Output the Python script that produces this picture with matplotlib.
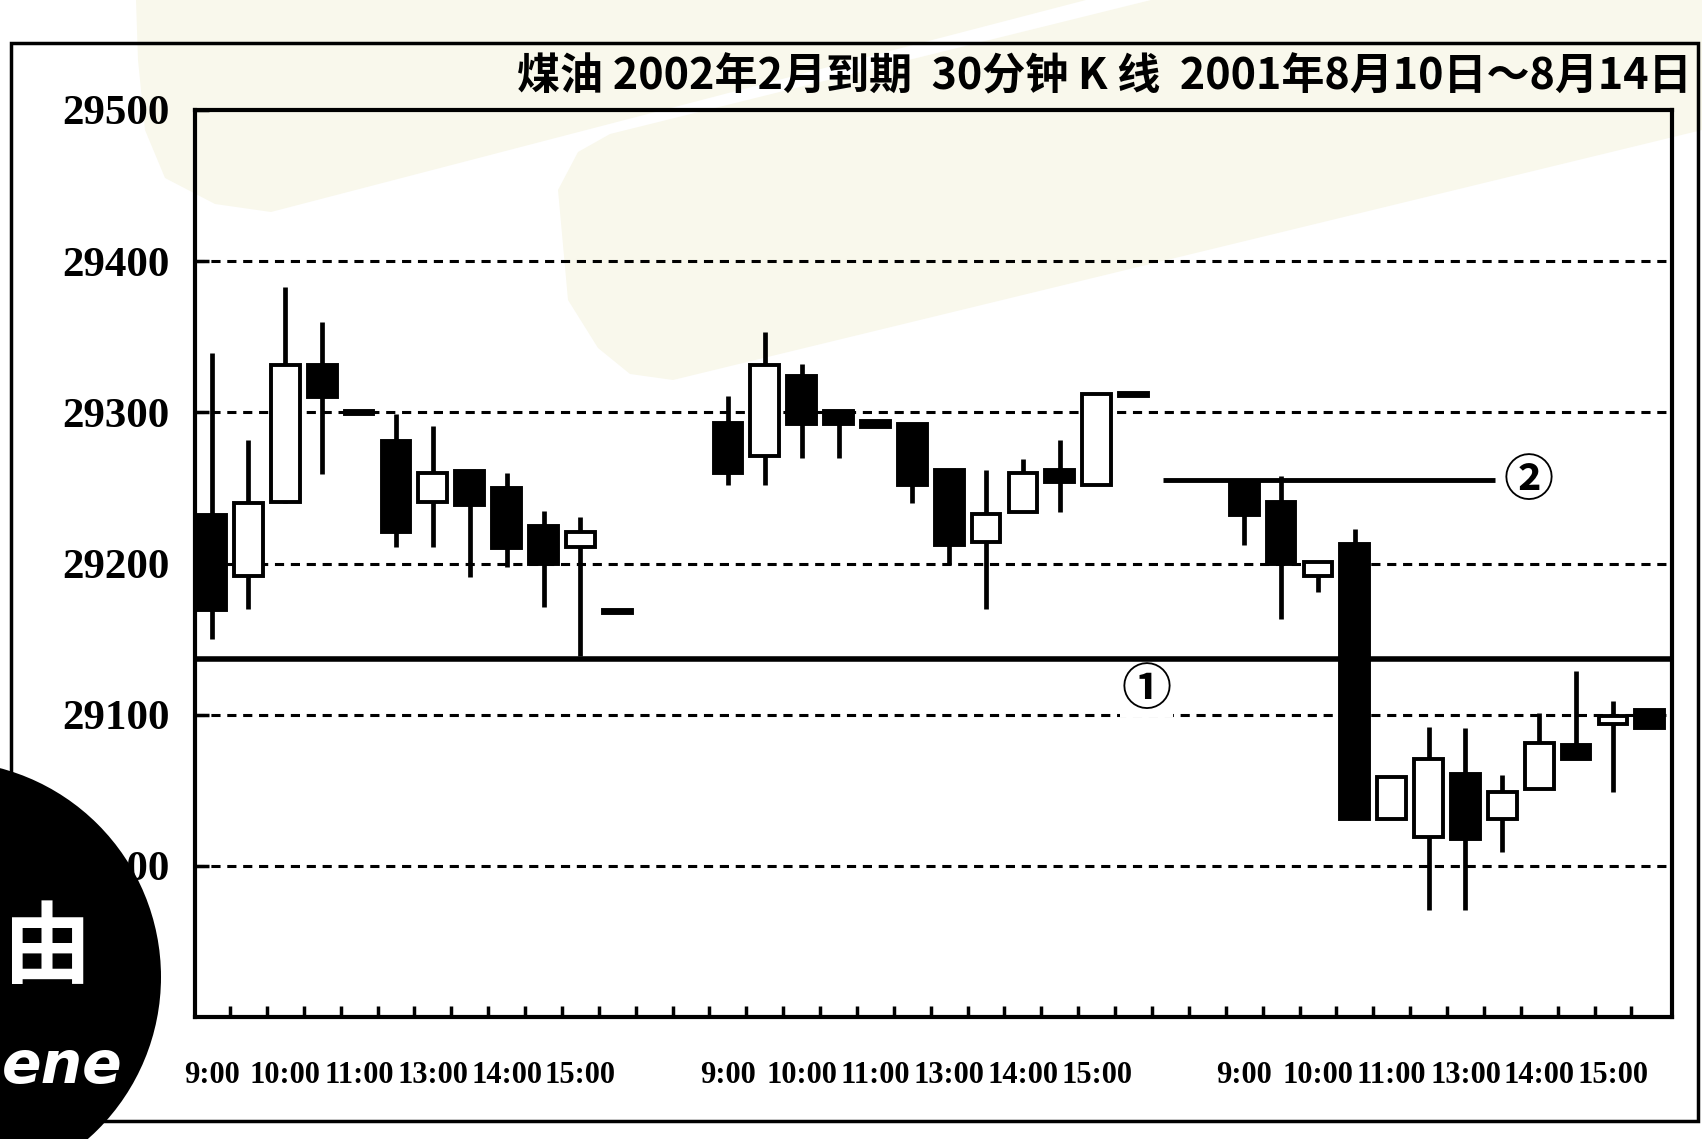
import numpy as np
import matplotlib
matplotlib.use('Agg')
import matplotlib.pyplot as plt
from matplotlib.patches import Polygon, Circle, Rectangle

# 30-minute candles, three trading days (Aug 10, 13, 14)
day1_open = [29232, 29192, 29241, 29331, 29301, 29281, 29241, 29261, 29250, 29225, 29211, 29169]
day1_high = [29339, 29282, 29383, 29360, 29301, 29299, 29291, 29261, 29260, 29235, 29231, 29169]
day1_low = [29150, 29170, 29240, 29259, 29299, 29211, 29211, 29191, 29198, 29171, 29139, 29167]
day1_close = [29169, 29240, 29331, 29310, 29299, 29221, 29260, 29239, 29210, 29200, 29221, 29167]

day2_open = [29293, 29271, 29324, 29301, 29294, 29292, 29262, 29214, 29234, 29262, 29252, 29313]
day2_high = [29311, 29353, 29332, 29301, 29294, 29292, 29262, 29262, 29269, 29282, 29312, 29313]
day2_low = [29252, 29252, 29270, 29270, 29290, 29240, 29199, 29170, 29234, 29234, 29252, 29311]
day2_close = [29260, 29331, 29292, 29292, 29290, 29252, 29212, 29233, 29260, 29254, 29312, 29311]

day3_open = [29254, 29241, 29192, 29213, 29031, 29019, 29061, 29031, 29051, 29080, 29094, 29103]
day3_high = [29254, 29258, 29201, 29223, 29059, 29092, 29091, 29060, 29101, 29129, 29109, 29103]
day3_low = [29212, 29163, 29181, 29031, 29031, 28971, 28971, 29009, 29051, 29071, 29049, 29091]
day3_close = [29232, 29200, 29201, 29031, 29059, 29071, 29018, 29049, 29081, 29071, 29099, 29091]

day_starts = [0, 14, 28]
time_labels = ['9:00', '10:00', '11:00', '13:00', '14:00', '15:00']
y_ticks = [29000, 29100, 29200, 29300, 29400, 29500]
grid_levels = [29000, 29100, 29200, 29300, 29400]

line1_level = 29137          # support line (1)
line2_level = 29255          # resistance line (2)
line2_span = (25.8, 34.8)
mark1_pos = (25.35, 29116)
mark2_pos = (35.7, 29254)

title = '煤油 2002年2月到期  30分钟 K 线  2001年8月10日～8月14日'

opens = day1_open + day2_open + day3_open
highs = day1_high + day2_high + day3_high
lows = day1_low + day2_low + day3_low
closes = day1_close + day2_close + day3_close
xs = []
for s in day_starts:
    xs += list(range(s, s + 12))
xs = np.array(xs)
opens = np.array(opens)
closes = np.array(closes)
highs = np.array(highs)
lows = np.array(lows)

W, H = 1702, 1139
fig = plt.figure(figsize=(W / 100, H / 100), dpi=100)

# background page: light watermark shapes and outer frame
bg = fig.add_axes([0, 0, 1, 1], zorder=0)
bg.set_xlim(0, W)
bg.set_ylim(H, 0)
bg.axis('off')
beige = '#f9f8ec'
bg.add_patch(Polygon([(136, 0), (1086, 0), (271, 212), (215, 204), (165, 178),
                      (145, 130), (138, 60)], closed=True, fc=beige, ec='none'))
bg.add_patch(Polygon([(1151, 0), (1702, 0), (1702, 130), (673, 380), (630, 374),
                      (598, 348), (568, 300), (558, 190), (578, 152), (610, 134)],
                     closed=True, fc=beige, ec='none'))
bg.add_patch(Rectangle((11, 43), 1687, 1078, fill=False, ec='black', lw=2.5))

# main chart
ax = fig.add_axes([195 / W, 1 - 1017 / H, (1672 - 195) / W, (1017 - 110) / H], zorder=1)
ax.patch.set_alpha(0)
ax.set_xlim(-0.45, 39.6)
ax.set_ylim(28900, 29500)

for lv in grid_levels:
    ax.axhline(lv, color='black', lw=2.2, ls=(0, (3.0, 2.2)), zorder=1)

up = closes >= opens
ax.vlines(xs, lows, highs, color='black', lw=3.4, zorder=2)
ax.bar(xs, np.abs(closes - opens), bottom=np.minimum(opens, closes), width=0.78,
       color=np.where(up, 'white', 'black'), edgecolor='black', lw=2.8, zorder=3)

ax.axhline(line1_level, color='black', lw=4, zorder=2)
ax.hlines(line2_level, line2_span[0], line2_span[1], color='black', lw=3.5, zorder=2)
for pos, ch in [(mark1_pos, '①'), (mark2_pos, '②')]:
    ax.text(pos[0], pos[1], ch, ha='center', va='center', fontsize=36,
            family=['Noto Sans CJK SC', 'DejaVu Sans'], fontweight='bold', zorder=4,
            bbox=dict(fc='white', ec='none', pad=1))

for sp in ax.spines.values():
    sp.set_linewidth(3)

ax.set_yticks(y_ticks)
ax.set_yticklabels([str(v) for v in y_ticks], family='Liberation Serif',
                   fontweight='bold', fontsize=31)
ax.tick_params(axis='y', direction='in', length=10, width=2.5, pad=18)

lab_pos = []
lab_txt = []
for s in day_starts:
    for k, t in enumerate(time_labels):
        lab_pos.append(s + 2 * k)
        lab_txt.append(t)
ax.set_xticks(lab_pos)
ax.set_xticklabels(lab_txt, family='Liberation Serif', fontweight='bold', fontsize=22)
ax.tick_params(axis='x', which='major', length=0, pad=32)
ax.set_xticks(np.arange(0.5, 39, 1), minor=True)
ax.tick_params(axis='x', which='minor', direction='in', length=8, width=2.5)

fig.text(1692 / W, 1 - 76 / H, title, ha='right', va='center', fontsize=31,
         family=['Noto Sans CJK SC', 'DejaVu Sans'], fontweight='bold')

# sticker in the lower left corner of the page
ov = fig.add_axes([0, 0, 1, 1], zorder=5)
ov.set_xlim(0, W)
ov.set_ylim(H, 0)
ov.axis('off')
ov.add_patch(Circle((-55, 977), 216, fc='black', ec='none'))
ov.text(46, 950, '由', color='white', fontsize=64, fontweight='bold',
        family=['Noto Sans CJK SC', 'DejaVu Sans'], ha='center', va='center')
ov.text(2, 1066, 'ene', color='white', fontsize=42, fontweight='bold',
        style='italic', family='DejaVu Sans', ha='left', va='center')

fig.savefig('out.png', dpi=100)
